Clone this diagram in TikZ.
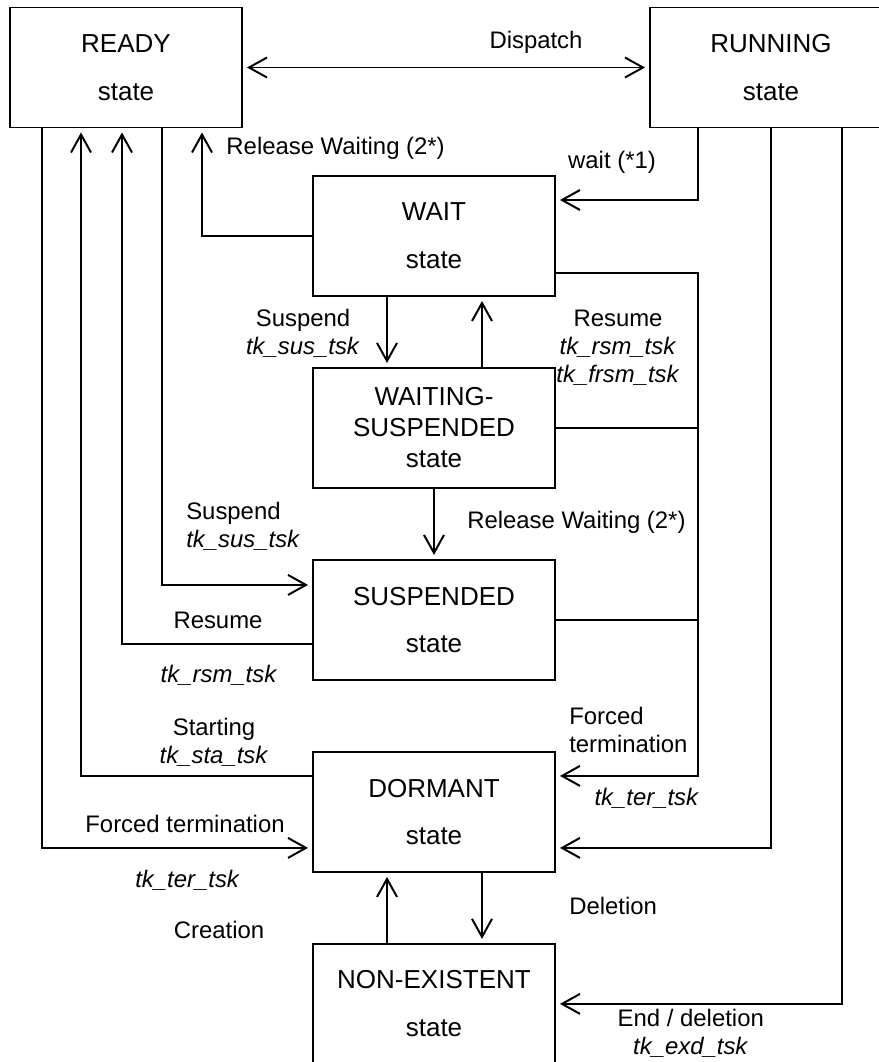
\documentclass[tikz,border=0pt]{standalone}
\usepackage{fontspec}
\setmainfont{Liberation Sans}
\usepackage{tikz}
\usetikzlibrary{arrows.meta, positioning}

\newcommand{\tkcall}[1]{\textit{#1}}

\begin{document}
\begin{tikzpicture}[
  font=\fontsize{17}{20}\selectfont,
  node distance=1.75cm,
  statebox/.style={rectangle, draw=black, line width=1.4pt, minimum width=6.05cm,
                   minimum height=3cm, align=center, inner sep=0pt,
                   font=\fontsize{18.5}{22}\selectfont},
  arrow/.style={-{Straight Barb[length=0.45cm, width=0.5cm]}, line width=1.4pt, shorten >=0.1cm},
  darrow/.style={{Straight Barb[length=0.45cm, width=0.5cm]}-{Straight Barb[length=0.45cm, width=0.5cm]},
                 line width=1.4pt, shorten >=0.1cm, shorten <=0.1cm},
  line/.style={line width=1.4pt},
  lbl/.style={align=center, inner sep=0pt}
]
\useasboundingbox (0,0) rectangle (21.975,-26.55);
\clip (0,0) rectangle (21.975,-26.55);

% ---- top row: READY / RUNNING ----
\node[statebox, minimum width=5.8cm] (ready) at (3.15,-1.6875) {READY\\[0.42cm]state};
\node[statebox] (running) at (19.275,-1.6875) {RUNNING\\[0.42cm]state};

% ---- middle column ----
\node[statebox] (wait) at (10.85,-5.9) {WAIT\\[0.42cm]state};
\node[statebox, below=of wait]      (waitsus)   {WAITING-\\SUSPENDED\\state};
\node[statebox, below=of waitsus]   (suspended) {SUSPENDED\\[0.42cm]state};
\node[statebox, below=of suspended] (dormant)   {DORMANT\\[0.42cm]state};
\node[statebox, below=of dormant]   (nonexist)  {NON-EXISTENT\\[0.42cm]state};

% ---- READY <-> RUNNING ----
\draw[darrow] (ready.east) -- (running.west);
\node[lbl] (dispatch) at (13.4,-1.05) {Dispatch};

% ---- into / out of WAIT ----
\coordinate (termbus) at ([xshift=-1.825cm]running.south);
\draw[arrow] (termbus) |- ([yshift=0.9cm]wait.east);
\node[lbl] (waitlbl) at (15.3,-4.07) {wait (*1)};

\draw[arrow] (wait.west) -| ([xshift=1.9cm]ready.south);
\node[lbl] (relwait1) at (8.39,-3.7) {Release Waiting (2*)};

\draw[arrow] ([xshift=-1.175cm]wait.south) -- ([xshift=-1.175cm]waitsus.north);
\draw[arrow] ([xshift=1.2cm]waitsus.north) -- ([xshift=1.2cm]wait.south);
\node[lbl] (sus1) at (7.575,-8.33) {Suspend\\\tkcall{tk\_sus\_tsk}};
\node[lbl] (rsm1) at (15.45,-8.69) {Resume\\\tkcall{tk\_rsm\_tsk}\\\tkcall{tk\_frsm\_tsk}};

\draw[arrow] (waitsus.south) -- (suspended.north);
\node[lbl] (relwait2) at (14.41,-13.05) {Release Waiting (2*)};

% ---- READY <-> SUSPENDED / DORMANT ----
\draw[arrow] ([xshift=0.9cm]ready.south) |- ([yshift=0.875cm]suspended.west);
\node[lbl, anchor=west, align=left] (sus2) at (4.65,-13.15) {Suspend\\\tkcall{tk\_sus\_tsk}};

\draw[arrow] ([yshift=-0.6cm]suspended.west) -| ([xshift=-0.1cm]ready.south);
\node[lbl] (rsm2)    at (5.45,-15.5)   {Resume};
\node[lbl] (rsm2cmd) at (5.475,-16.875) {\tkcall{tk\_rsm\_tsk}};

\draw[arrow] ([yshift=0.9cm]dormant.west) -| ([xshift=-1.125cm]ready.south);
\node[lbl] (sta) at (5.35,-18.56) {Starting\\\tkcall{tk\_sta\_tsk}};

\draw[arrow] ([xshift=-2.1cm]ready.south) |- ([yshift=-0.9cm]dormant.west);
\node[lbl] (ter1)    at (4.625,-20.6) {Forced termination};
\node[lbl] (ter1cmd) at (4.69,-22.0)  {\tkcall{tk\_ter\_tsk}};

% ---- forced termination bus ----
\coordinate (forkin) at ([yshift=0.9cm]dormant.east);
\draw[arrow] ([yshift=-0.925cm]wait.east) -| (forkin -| termbus) -- (forkin);
\draw[line] (waitsus.east) -- (waitsus.east -| termbus);
\draw[line] (suspended.east) -- (suspended.east -| termbus);
\node[lbl, anchor=west, align=left] (ter2) at (14.225,-18.25) {Forced\\termination};
\node[lbl] (ter2cmd) at (16.17,-19.95) {\tkcall{tk\_ter\_tsk}};

% ---- RUNNING -> DORMANT / NON-EXISTENT ----
\draw[arrow] (running.south) |- ([yshift=-0.9cm]dormant.east);
\draw[arrow] ([xshift=1.775cm]running.south) |- (nonexist.east);
\node[lbl] (exd) at (17.27,-25.84) {End / deletion\\\tkcall{tk\_exd\_tsk}};

% ---- DORMANT <-> NON-EXISTENT ----
\draw[arrow] ([xshift=-1.175cm]nonexist.north) -- ([xshift=-1.175cm]dormant.south);
\draw[arrow] ([xshift=1.2cm]dormant.south) -- ([xshift=1.2cm]nonexist.north);
\node[lbl] (creation) at (5.475,-23.25) {Creation};
\node[lbl, anchor=west] (deletion) at (14.225,-22.65) {Deletion};

\end{tikzpicture}
\end{document}
